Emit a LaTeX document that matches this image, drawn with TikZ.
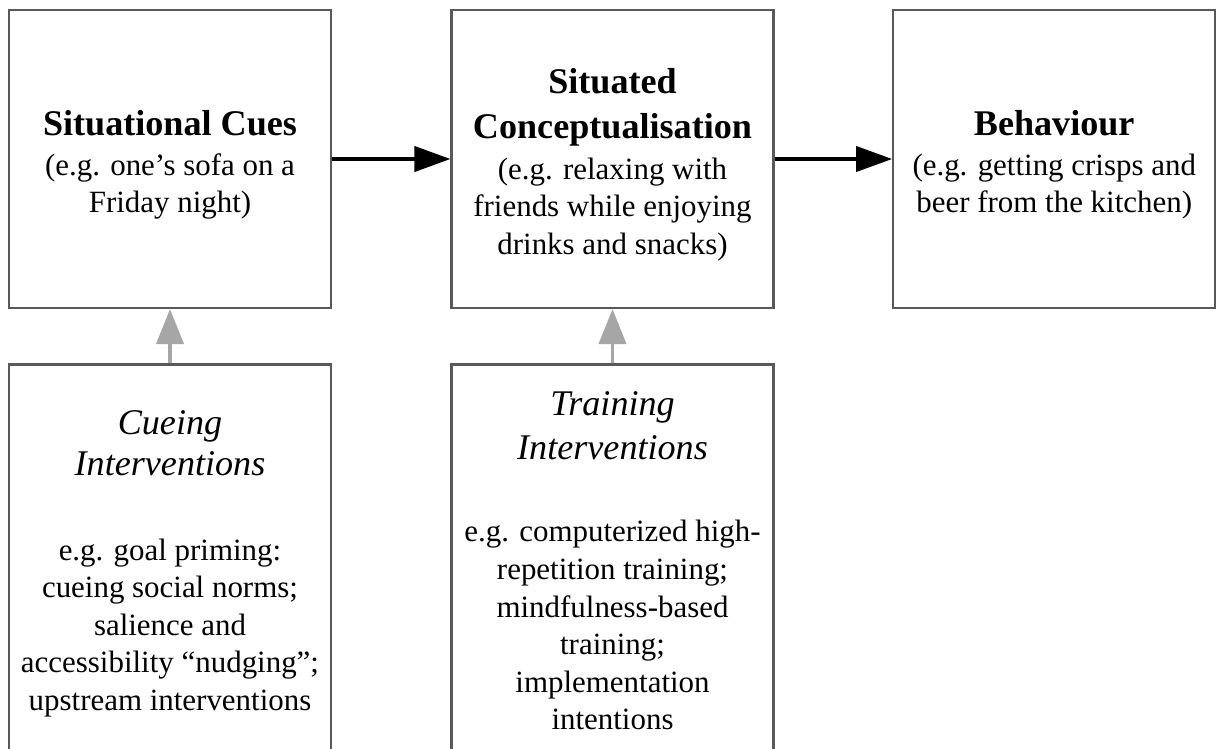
\documentclass[tikz,border=0pt]{standalone}
\usepackage{fontspec}
\setmainfont{Liberation Serif}
\usetikzlibrary{arrows.meta, positioning}
\tikzset{
  stage/.style={rectangle, draw=black!65, line width=1.5pt, minimum width=8.05cm, minimum height=7.45cm, align=center},
  intervention/.style={rectangle, draw=black!65, line width=1.5pt, minimum width=8.05cm, align=center},
  arrow/.style={-{Triangle[length=0.9cm, width=0.625cm]}, line width=2.8pt},
  softarrow/.style={-{Triangle[length=0.875cm, width=0.675cm]}, line width=2.8pt, draw=black!35},
}
\newcommand{\stagetitle}{\fontsize{25.7}{32}\selectfont\bfseries}
\newcommand{\intertitle}{\fontsize{25.7}{32}\selectfont\itshape}
\newcommand{\titlestrut}{\rule{0pt}{26pt}}

\begin{document}
\begin{tikzpicture}[font=\fontsize{22}{26.7}\selectfont, node distance=2.96cm]
\useasboundingbox (0,0) rectangle (30.4,-18.7);
\clip (0,0) rectangle (30.4,-18.7);
% top row
\node[stage] (cues) at (4.25,-3.975) {\titlestrut{\stagetitle Situational Cues}\\[2pt]
  (e.g. one’s sofa on a\\ Friday night)};
\node[stage, right=2.96cm of cues] (concept) {\titlestrut{\stagetitle Situated}\\[5.3pt]
  {\stagetitle Conceptualisation}\\[2pt] (e.g. relaxing with\\ friends while enjoying\\ drinks and snacks)};
\node[stage, right=2.94cm of concept] (behav) {\titlestrut{\stagetitle Behaviour}\\[2pt]
  (e.g. getting crisps and\\ beer from the kitchen)};
% interventions, cut off at the bottom
\node[intervention, minimum height=9.95cm, below=1.36cm of cues] (cueing) {{\intertitle Cueing}\\[2.4pt]
  {\intertitle Interventions}\\[33.7pt] e.g. goal priming:\\ cueing social norms;\\ salience and\\
  accessibility “nudging”;\\ upstream interventions};
\node[intervention, minimum height=9.8cm, below=1.36cm of concept] (training) {{\intertitle Training}\\[4.6pt]
  {\intertitle Interventions}\\[32.3pt] e.g. computerized high-\\ repetition training;\\ mindfulness-based\\
  training;\\ implementation\\ intentions};
\draw[arrow] (cues) -- (concept);
\draw[arrow] (concept) -- (behav);
\draw[softarrow] (cueing) -- (cues);
\draw[softarrow] (training) -- (concept);
\end{tikzpicture}
\end{document}
